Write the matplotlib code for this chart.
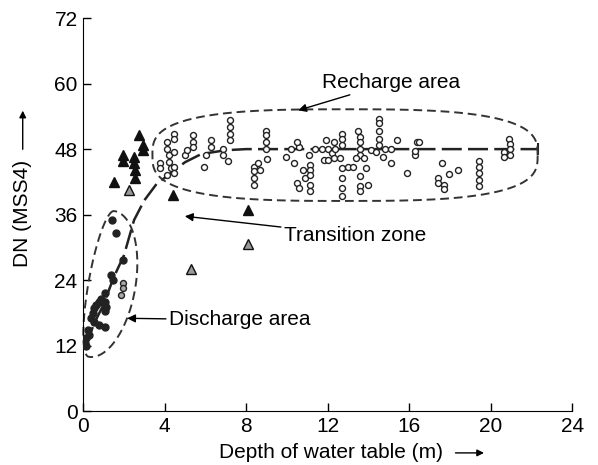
import numpy as np
import matplotlib
matplotlib.use("Agg")
import matplotlib.pyplot as plt
from matplotlib.patches import FancyArrowPatch

plt.rcParams.update({"font.family": ["Liberation Sans", "DejaVu Sans"], "font.size": 15})

# recharge area (open circles)
recharge_x = [3.75, 3.75, 4.1, 4.1, 4.2, 4.2, 4.3, 4.1, 4.48, 4.48, 4.48, 4.48, 4.48, 5.0, 5.1,
              5.4, 5.4, 5.4, 5.94, 6.03, 6.27, 6.27,
              7.22, 7.22, 7.22, 7.22, 6.86, 6.86, 7.13,
              8.37, 8.37, 8.37, 8.37, 8.6, 8.68, 8.96, 8.96, 8.96, 8.96, 9.0,
              9.96, 10.2, 10.33, 10.6, 10.5, 10.8, 10.5, 10.6, 10.9,
              11.15, 11.15, 11.15, 11.15, 11.15, 11.06, 11.4, 11.7, 11.8, 11.9, 12.0, 12.2, 12.3,
              12.35, 12.0, 12.3,
              12.7, 12.7, 12.7, 12.6, 12.7, 12.7, 12.7, 12.7, 12.98, 13.25,
              13.5, 13.6, 13.6, 13.6, 13.6, 13.4, 13.6, 13.6, 13.6, 13.98, 13.9, 13.8, 14.1,
              14.5, 14.5, 14.5, 14.5, 14.5, 14.7, 14.35, 14.8, 15.1, 15.1, 15.4,
              15.9, 16.3, 16.3, 16.4, 16.5,
              17.6, 17.4, 17.4, 17.7, 17.7, 17.97, 18.4,
              19.4, 19.4, 19.4, 19.4, 19.4,
              20.65, 20.65, 20.9, 20.95, 20.95, 20.95]
recharge_y = [45.4, 44.5, 49.3, 48.1, 46.9, 45.7, 44.5, 43.3, 50.8, 49.9, 47.5, 44.8, 43.6, 46.9, 47.8,
              50.5, 49.3, 48.4, 44.8, 46.9, 49.6, 48.4,
              53.3, 52.1, 50.8, 49.6, 48.1, 46.9, 45.8,
              44.8, 43.9, 42.7, 41.5, 45.4, 44.2, 51.4, 50.5, 49.3, 48.1, 46.2,
              46.6, 48.1, 45.4, 48.4, 49.3, 44.2, 41.8, 40.9, 42.7,
              45.1, 44.2, 43.3, 41.5, 40.3, 46.9, 48.1, 48.1, 46.0, 49.6, 48.1, 47.2, 49.3,
              48.1, 46.0, 46.4,
              50.8, 49.9, 48.7, 46.3, 44.5, 42.7, 40.9, 39.4, 44.8, 44.8,
              51.4, 50.2, 49.3, 48.1, 46.9, 46.3, 43.0, 41.2, 40.3, 41.5, 44.5, 46.3, 47.8,
              53.6, 52.7, 51.4, 49.9, 48.7, 46.6, 47.5, 48.1, 48.1, 45.5, 49.6,
              43.6, 46.9, 47.6, 49.3, 49.3,
              45.4, 42.7, 41.8, 41.5, 40.6, 43.5, 44.2,
              45.8, 44.8, 43.6, 42.4, 41.2,
              47.5, 46.6, 49.9, 49.0, 48.1, 46.9]

# discharge area (filled circles)
discharge_x = [1.4, 1.62, 1.94, 1.37, 1.45, 1.05, 0.88, 0.8, 0.64, 0.55, 1.05, 1.13, 1.05,
               0.47, 0.39, 0.55, 0.8, 1.05, 0.23, 0.31, 0.15, 0.07, 0.15]
discharge_y = [35.0, 32.7, 27.7, 24.9, 24.0, 21.6, 20.6, 20.0, 19.4, 18.8, 20.0, 19.1, 18.3,
               17.9, 17.0, 16.4, 15.8, 15.4, 14.8, 13.9, 13.3, 12.4, 11.9]
discharge_open_x = [1.94, 1.94, 1.86]
discharge_open_y = [23.4, 22.5, 21.2]

# transition zone (triangles)
trans_x = [2.76, 2.92, 2.92, 1.94, 1.94, 2.5, 2.5, 2.55, 2.55, 1.53, 4.4, 8.07]
trans_y = [50.5, 48.7, 47.8, 46.9, 45.9, 46.6, 45.4, 44.1, 42.7, 42.0, 39.6, 36.8]
trans_grey_x = [2.27, 8.07, 5.3]
trans_grey_y = [40.5, 30.7, 26.1]

# fitted trend
curve_x = [0.1, 0.6, 1.0, 1.5, 2.0, 2.5, 3.0, 3.6, 4.2, 5.0, 5.8, 7.0, 8.0, 22.3]
curve_y = [12.0, 16.5, 19.5, 24.5, 28.5, 35.0, 38.6, 41.6, 43.3, 45.6, 47.1, 47.8, 48.0, 48.0]

fig = plt.figure(figsize=(5.98, 4.65), dpi=100)
AX = [0.139, 0.116, 0.818, 0.845]
ax = fig.add_axes(AX)
ax.set_xlim(0, 24)
ax.set_ylim(0, 72)
ax.set_xticks(range(0, 25, 4))
ax.set_yticks(range(0, 73, 12))
for s in ("top", "right"):
    ax.spines[s].set_visible(False)
ax.tick_params(direction="in", length=6, width=1, pad=4, labelsize=15)

ax.plot(recharge_x, recharge_y, "o", ms=4.3, mfc="white", mec="#222222", mew=1.0, zorder=3)
ax.plot(discharge_x, discharge_y, "o", ms=5, mfc="#222222", mec="#222222", zorder=3)
ax.plot(discharge_open_x, discharge_open_y, "o", ms=4.3, mfc="#aaaaaa", mec="#222222", mew=1.0, zorder=3)
ax.plot(trans_x, trans_y, "^", ms=6.5, mfc="#111111", mec="#111111", zorder=3)
ax.plot(trans_grey_x, trans_grey_y, "^", ms=6.5, mfc="#999999", mec="#111111", mew=1.0, zorder=3)

ax.plot(curve_x, curve_y, color="#222222", lw=1.8, dashes=(8, 2.5), zorder=2)
ax.plot(curve_x[-1], curve_y[-1], "|", ms=8, mew=1.5, color="#222222")

# envelopes (discharge one is egg-shaped: wider on its right side)
sx, sy = AX[2] * 598 / 24, AX[3] * 465 / 72
t = np.linspace(0, 2 * np.pi, 400)
a, ang = 74, np.deg2rad(80)
b = np.where(np.sin(t) < 0, 34, 13)
ex = 0.9 + (a * np.cos(t) * np.cos(ang) - b * np.sin(t) * np.sin(ang)) / sx
ey = 23.3 + (a * np.cos(t) * np.sin(ang) + b * np.sin(t) * np.cos(ang)) / sy
ax.plot(ex, ey, color="#333333", lw=1.4, dashes=(4.5, 2.5), clip_on=False)

n = 3
c, s = np.cos(t), np.sin(t)
rx = 12.85 + 9.45 * np.sign(c) * np.abs(c) ** (2 / n)
ry = 46.9 + 8.4 * np.sign(s) * np.abs(s) ** (2 / n)
ax.plot(rx, ry, color="#333333", lw=1.4, dashes=(4.5, 2.5))

arr = dict(arrowstyle="-|>", color="black", lw=1.0, mutation_scale=12, shrinkA=0, shrinkB=0)
ax.annotate("Recharge area", xy=(10.55, 55.1), xytext=(11.7, 60.2), ha="left", va="center",
            arrowprops=arr)
ax.annotate("Transition zone", xy=(4.99, 35.7), xytext=(9.84, 32.2), ha="left", va="center",
            arrowprops=arr)
ax.annotate("Discharge area", xy=(2.16, 17.0), xytext=(4.2, 16.7), ha="left", va="center",
            arrowprops=arr)

fig.text(0.038, 0.54, "DN (MSS4)", rotation=90, ha="center", va="center", fontsize=15)
fig.text(0.553, 0.026, "Depth of water table (m)", ha="center", va="center", fontsize=15)
fig.patches.append(FancyArrowPatch((0.038, 0.673), (0.038, 0.768), transform=fig.transFigure,
                   arrowstyle="-|>", mutation_scale=10, color="black", lw=1.0))
fig.patches.append(FancyArrowPatch((0.757, 0.026), (0.814, 0.026), transform=fig.transFigure,
                   arrowstyle="-|>", mutation_scale=10, color="black", lw=1.0))

fig.savefig("out.png", dpi=100)
